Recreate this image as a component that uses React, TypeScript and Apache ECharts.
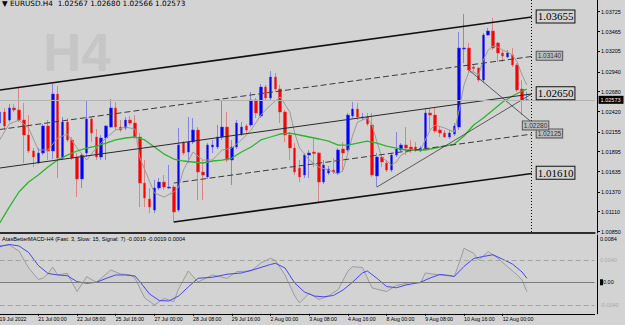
import React, { useEffect, useRef } from 'react';
import * as echarts from 'echarts';

// ---------- data ----------
const xTickLabels = [
  '19 Jul 2022', '21 Jul 00:00', '22 Jul 08:00', '25 Jul 16:00', '27 Jul 00:00', '28 Jul 08:00',
  '29 Jul 16:00', '2 Aug 00:00', '3 Aug 08:00', '4 Aug 16:00', '8 Aug 00:00', '9 Aug 08:00',
  '10 Aug 16:00', '12 Aug 00:00',
];
const barsPerLabel = 8;
const slotCount = 124; // bar slots across the plot (incl. empty right margin)

const opens = [
  1.02270, 1.02414, 1.02309, 1.02466, 1.02440, 1.02309, 1.02113, 1.01904, 1.01747, 1.01878,
  1.02231, 1.01904, 1.02649, 1.01812, 1.02283, 1.02048, 1.01825, 1.01538, 1.01878, 1.02322,
  1.02087, 1.01825, 1.02074, 1.02217, 1.02466, 1.02217, 1.02204, 1.02309, 1.02270, 1.02087,
  1.01485, 1.01276, 1.01132, 1.01420, 1.01498, 1.01420, 1.01433, 1.01132, 1.02008, 1.01891,
  1.02021, 1.02178, 1.01629, 1.01564, 1.01956, 1.01956, 1.02087, 1.02217, 1.01786, 1.01956,
  1.02126, 1.02231, 1.02244, 1.02571, 1.02361, 1.02740, 1.02597, 1.02871, 1.02714, 1.02414,
  1.02113, 1.01943, 1.01681, 1.01590, 1.01851, 1.01891, 1.01878, 1.01498, 1.01616, 1.01655,
  1.01616, 1.01930, 1.01917, 1.02361, 1.02453, 1.02335, 1.02348, 1.02244, 1.01577, 1.01825,
  1.01747, 1.01655, 1.01851, 1.01917, 1.01982, 1.01956, 1.01956, 1.01904, 1.01943, 1.02401,
  1.02374, 1.02178, 1.02139, 1.02087, 1.02126, 1.02217, 1.03237, 1.03250, 1.03002, 1.02989,
  1.02832, 1.03420, 1.03473, 1.03316, 1.03185, 1.03133, 1.03159, 1.03028, 1.02714, 1.02567,
];
const closes = [
  1.02414, 1.02231, 1.02466, 1.02440, 1.02309, 1.02113, 1.01904, 1.01825, 1.01878, 1.02231,
  1.01904, 1.02649, 1.01812, 1.02283, 1.02048, 1.01812, 1.01538, 1.01851, 1.02322, 1.02139,
  1.01825, 1.02074, 1.02231, 1.02466, 1.02217, 1.02178, 1.02309, 1.02270, 1.02087, 1.01485,
  1.01289, 1.01171, 1.01420, 1.01498, 1.01433, 1.01433, 1.01106, 1.01982, 1.01878, 1.02021,
  1.02178, 1.01629, 1.01590, 1.01982, 1.01982, 1.02087, 1.02217, 1.01786, 1.01956, 1.02270,
  1.02217, 1.02178, 1.02571, 1.02401, 1.02740, 1.02597, 1.02871, 1.02714, 1.02414, 1.02113,
  1.01943, 1.01629, 1.01564, 1.01851, 1.01878, 1.01871, 1.01498, 1.01721, 1.01668, 1.01629,
  1.01917, 1.01878, 1.02374, 1.02453, 1.02348, 1.02348, 1.02257, 1.01590, 1.01825, 1.01760,
  1.01655, 1.01851, 1.01930, 1.01982, 1.01943, 1.01930, 1.01917, 1.01943, 1.02401, 1.02374,
  1.02165, 1.02139, 1.02087, 1.02139, 1.02231, 1.03250, 1.03250, 1.02963, 1.02982, 1.02832,
  1.03420, 1.03473, 1.03250, 1.03185, 1.03146, 1.03185, 1.03028, 1.02701, 1.02571, 1.02573,
];
const lows = [
  1.02231, 1.02178, 1.02283, 1.02414, 1.02283, 1.01747, 1.01878, 1.01694, 1.01734, 1.01851,
  1.01786, 1.01799, 1.01551, 1.01786, 1.02021, 1.01786, 1.01302, 1.01420, 1.01825, 1.02021,
  1.01786, 1.01786, 1.01786, 1.02204, 1.02178, 1.02152, 1.02178, 1.02244, 1.02061, 1.01171,
  1.01171, 1.01093, 1.01093, 1.01394, 1.01394, 1.01407, 1.00975, 1.01106, 1.01851, 1.01747,
  1.01995, 1.01263, 1.01263, 1.01538, 1.01878, 1.01930, 1.02048, 1.01760, 1.01459, 1.01930,
  1.02100, 1.02139, 1.02217, 1.02335, 1.02335, 1.02571, 1.02571, 1.02675, 1.02270, 1.02021,
  1.01786, 1.01590, 1.01498, 1.01551, 1.01551, 1.01694, 1.01237, 1.01472, 1.01590, 1.01603,
  1.01590, 1.01629, 1.01891, 1.02335, 1.02309, 1.02309, 1.02231, 1.01564, 1.01433, 1.01694,
  1.01629, 1.01629, 1.01825, 1.01891, 1.01851, 1.01878, 1.01891, 1.01891, 1.01917, 1.02178,
  1.02139, 1.02087, 1.02074, 1.02061, 1.02100, 1.02178, 1.03054, 1.02937, 1.02937, 1.02806,
  1.02793, 1.03407, 1.03224, 1.03067, 1.03067, 1.03120, 1.03002, 1.02675, 1.02374, 1.02566,
];
const highs = [
  1.02466, 1.02466, 1.02518, 1.02518, 1.02727, 1.02531, 1.02374, 1.01943, 1.01943, 1.02257,
  1.02309, 1.02780, 1.02754, 1.02348, 1.02335, 1.02087, 1.01878, 1.01878, 1.02557, 1.02348,
  1.02191, 1.02113, 1.02244, 1.02584, 1.02544, 1.02309, 1.02348, 1.02361, 1.02374, 1.02139,
  1.01786, 1.01420, 1.01525, 1.01551, 1.01590, 1.01721, 1.01459, 1.02204, 1.02034, 1.02348,
  1.02335, 1.02217, 1.01786, 1.02008, 1.02048, 1.02244, 1.02571, 1.02414, 1.02048, 1.02309,
  1.02283, 1.02257, 1.02675, 1.02597, 1.02780, 1.02767, 1.02950, 1.02924, 1.02767, 1.02440,
  1.02152, 1.02008, 1.01786, 1.01878, 1.01917, 1.02087, 1.01891, 1.01786, 1.01708, 1.01812,
  1.01943, 1.02021, 1.02401, 1.02544, 1.02531, 1.02401, 1.02401, 1.02401, 1.01878, 1.01851,
  1.01786, 1.01878, 1.02152, 1.02008, 1.02217, 1.02048, 1.02021, 1.01969, 1.02466, 1.02466,
  1.02479, 1.02217, 1.02178, 1.02178, 1.02270, 1.03460, 1.03695, 1.03316, 1.03028, 1.03002,
  1.03447, 1.03512, 1.03643, 1.03329, 1.03224, 1.03224, 1.03250, 1.03054, 1.02832, 1.02680,
];

// fast MA (thin gray) read at sampled bars: [bar, price]
const fastMA = [
  [0, 1.02048], [2, 1.02257], [4, 1.02309], [6, 1.02204], [8, 1.01917], [10, 1.01917],
  [12, 1.02074], [14, 1.02126], [16, 1.01943], [18, 1.01786], [20, 1.01943], [22, 1.02074],
  [24, 1.02178], [26, 1.02217], [28, 1.02191], [29, 1.01812], [32, 1.01355], [34, 1.01302],
  [36, 1.01368], [37, 1.01433], [38, 1.01655], [40, 1.01891], [42, 1.01786], [44, 1.01786],
  [46, 1.01917], [48, 1.01943], [50, 1.02048], [52, 1.02178], [54, 1.02374], [56, 1.02505],
  [58, 1.02610], [60, 1.02414], [61, 1.02139], [62, 1.01943], [64, 1.01786], [66, 1.01694],
  [68, 1.01655], [70, 1.01603], [71, 1.01655], [72, 1.01878], [73, 1.02113], [74, 1.02283],
  [76, 1.02335], [77, 1.02244], [78, 1.02021], [79, 1.01825], [81, 1.01721], [82, 1.01760],
  [83, 1.01851], [85, 1.01917], [87, 1.01917], [88, 1.02048], [89, 1.02178], [90, 1.02244],
  [92, 1.02204], [94, 1.02152], [95, 1.02440], [96, 1.02767], [97, 1.02937], [98, 1.02937],
  [99, 1.02897], [100, 1.03093], [101, 1.03224], [102, 1.03277], [103, 1.03263], [104, 1.03224],
  [105, 1.03198], [106, 1.03159], [107, 1.03067], [108, 1.02897], [109, 1.02767],
];
// slow MA (green) read at sampled bars
const slowMA = [
  [0, 1.00962], [2, 1.01171], [4, 1.01368], [6, 1.01498], [8, 1.01590], [10, 1.01694],
  [12, 1.01786], [14, 1.01851], [16, 1.01904], [18, 1.01943], [20, 1.01969], [22, 1.02008],
  [24, 1.02048], [26, 1.02074], [28, 1.02087], [30, 1.02048], [32, 1.01956], [34, 1.01864],
  [36, 1.01799], [38, 1.01773], [40, 1.01760], [42, 1.01747], [44, 1.01773], [46, 1.01786],
  [48, 1.01812], [50, 1.01891], [52, 1.01956], [54, 1.02048], [56, 1.02087], [58, 1.02126],
  [60, 1.02139], [62, 1.02113], [64, 1.02087], [66, 1.02061], [68, 1.02034], [70, 1.01982],
  [72, 1.01982], [74, 1.02008], [76, 1.02034], [78, 1.02008], [80, 1.01969], [82, 1.01943],
  [84, 1.01917], [86, 1.01917], [88, 1.01917], [90, 1.01943], [92, 1.01969], [94, 1.01995],
  [96, 1.02100], [98, 1.02244], [100, 1.02335], [102, 1.02440], [104, 1.02544], [106, 1.02623],
  [108, 1.02688], [109, 1.02714],
];
// MACD main (gray) and signal (blue), sampled
const macdMain = [
  [0, 0.00651], [2, 0.00663], [4, 0.00556], [6, 0.00254], [8, 0.00050], [9, 0.00076],
  [10, 0.00148], [11, 0.00272], [12, 0.00130], [14, 0.00160], [16, -0.00167], [18, 0.00100],
  [20, 0.0], [23, 0.00219], [25, 0.00148], [27, 0.00130], [28, 0.00076], [29, -0.00107],
  [30, -0.00279], [32, -0.00404], [34, -0.00288], [36, -0.00345], [37, -0.00119], [39, 0.00201],
  [41, 0.00005], [44, 0.00130], [47, 0.00071], [49, 0.00188], [52, 0.00201], [54, 0.00343],
  [56, 0.00427], [57, 0.00388], [59, 0.00130], [61, -0.00244], [62, -0.00368], [64, -0.00196],
  [66, -0.00306], [68, -0.00244], [70, -0.00128], [72, 0.00201], [73, 0.00277], [75, 0.00263],
  [77, -0.00101], [80, -0.00164], [82, -0.00057], [85, -0.00004], [87, -0.00012], [88, 0.00165],
  [91, 0.00130], [94, 0.00103], [95, 0.00343], [96, 0.00604], [98, 0.00516], [99, 0.00396],
  [101, 0.00544], [103, 0.00427], [105, 0.00277], [107, 0.00130], [108, 0.00041], [109, -0.00167],
];
const macdSignal = [
  [0, 0.00633], [2, 0.00672], [4, 0.00645], [6, 0.00530], [8, 0.00299], [10, 0.00156],
  [12, 0.00130], [14, 0.00117], [16, 0.00011], [18, -0.00018], [20, 0.0], [22, 0.00068],
  [24, 0.00130], [26, 0.00130], [28, 0.00112], [29, 0.00011], [31, -0.00208], [33, -0.00324],
  [35, -0.00332], [37, -0.00244], [39, -0.00084], [41, 0.00071], [44, 0.00089], [47, 0.00142],
  [50, 0.00165], [53, 0.00236], [56, 0.00316], [57, 0.00338], [59, 0.00254], [61, -0.00012],
  [63, -0.00172], [65, -0.00244], [67, -0.00258], [69, -0.00235], [71, -0.00137], [73, 0.00005],
  [75, 0.00165], [76, 0.00201], [78, 0.00071], [80, -0.00075], [82, -0.00098], [84, -0.00048],
  [87, 0.0], [89, 0.00076], [91, 0.00139], [93, 0.00121], [94, 0.00103], [96, 0.00281],
  [98, 0.00423], [100, 0.00459], [102, 0.00489], [104, 0.00409], [106, 0.00325], [108, 0.00183],
  [109, 0.00071],
];

const priceTicks = [1.00850, 1.01110, 1.01370, 1.01635, 1.01895, 1.02155, 1.02420, 1.02680, 1.02940, 1.03205, 1.03465, 1.03725];
const macdTicks = [-0.0056, -0.0040, 0, 0.0040, 0.0084];
const macdLevels = [0.0040, -0.0040];
const lastBar = { open: 1.02567, high: 1.02680, low: 1.02566, close: 1.02573 };
const macdTitleValues = ['-0.0019', '-0.0019', '0.0004'];
const endBar = 110;

// drawn objects: [startBar, startPrice] -> [endBar, endPrice]
const trendLines = [
  { name: 'upper', from: [0, 1.02701], to: [110, 1.03655], kind: 'thick', label: '1.03655', box: 'big' },
  { name: 'upperMid', from: [0, 1.02185], to: [110, 1.03140], kind: 'dash', label: '1.03140', box: 'small' },
  { name: 'middle', from: [0, 1.01681], to: [110, 1.02650], kind: 'thin', label: '1.02650', box: 'big' },
  { name: 'lowerMid', from: [36, 1.01485], to: [110, 1.02125], kind: 'dash', label: '1.02125', box: 'small' },
  { name: 'lower', from: [36, 1.00975], to: [110, 1.01610], kind: 'thick', label: '1.01610', box: 'big' },
  { name: 'rise', from: [78, 1.01433], to: [110, 1.02650], kind: 'fine', label: '', box: '' },
  { name: 'fall', from: [97, 1.02963], to: [110, 1.02280], kind: 'fine', label: '1.02280', box: 'small' },
];

// ---------- styling ----------
const BG = '#d3d3d3';
const FONT = 'Liberation Sans';

const lineStyles: Record<string, any> = {
  thick: { color: '#111', width: 1.6, type: 'solid' },
  dash: { color: '#3c3c3c', width: 1, type: [6, 3] },
  thin: { color: '#2a2a2a', width: 1, type: 'solid' },
  fine: { color: '#3a3a3a', width: 0.8, type: 'solid' },
};
const boxStyles: Record<string, any> = {
  big: {
    fontFamily: 'Liberation Serif', fontSize: 11, color: '#000', backgroundColor: BG,
    borderColor: '#111', borderWidth: 1, padding: [1, 1, 0, 1],
  },
  small: {
    fontFamily: FONT, fontSize: 6.5, color: '#333', backgroundColor: '#bcbcbc',
    borderColor: '#555', borderWidth: 1, padding: [1, 1, 0, 1],
  },
};

export default function App() {
  const ref = useRef<HTMLDivElement>(null);

  useEffect(() => {
    if (!ref.current) return;
    const chart = echarts.init(ref.current, undefined, { renderer: 'svg' });

    const categories = Array.from({ length: slotCount }, (_, i) => String(i));
    const candles = opens.map((o, i) => [o, closes[i], lows[i], highs[i]]);
    const labelShown = (idx: number) => idx % barsPerLabel === 0 && idx / barsPerLabel < xTickLabels.length;

    const trendData: any[] = trendLines.map((t) => [
      {
        coord: t.from,
        lineStyle: lineStyles[t.kind],
        label: t.label
          ? { show: true, position: 'end', distance: 5, formatter: t.label, ...boxStyles[t.box] }
          : { show: false },
      },
      { coord: t.to },
    ]);
    // vertical dotted "end" line
    trendData.push([
      { coord: [endBar, 1.03878], lineStyle: { color: '#000', width: 1, type: [1, 2] }, label: { show: false } },
      { coord: [endBar, 1.00832] },
    ]);

    const bw = 595.0125; // (slotCount - 1) * bar spacing
    const option: any = {
      animation: false,
      backgroundColor: BG,
      textStyle: { fontFamily: FONT },
      grid: [
        { left: -0.4, top: 0, width: bw, height: 233, outerBoundsMode: 'none' },
        { left: -0.4, top: 235, width: bw, height: 78.8, outerBoundsMode: 'none' },
      ],
      xAxis: [
        {
          type: 'category', gridIndex: 0, data: categories, boundaryGap: false,
          axisLine: { show: true, onZero: false, lineStyle: { color: '#2e2e2e', width: 2 } },
          axisTick: { show: false }, axisLabel: { show: false }, splitLine: { show: false },
        },
        {
          type: 'category', gridIndex: 1, data: categories, boundaryGap: false,
          axisLine: { show: true, onZero: false, lineStyle: { color: '#000', width: 1 } },
          axisTick: { show: true, interval: (i: number) => labelShown(i), length: 2, lineStyle: { color: '#000' } },
          axisLabel: {
            show: true, interval: (i: number) => labelShown(i),
            formatter: (_v: string, i: number) => xTickLabels[i / barsPerLabel] ?? '',
            align: 'left', fontSize: 5.2, color: '#000', margin: 3, fontFamily: FONT,
          },
          splitLine: { show: false },
        },
      ],
      yAxis: [
        {
          type: 'value', gridIndex: 0, position: 'right', offset: 2.4,
          min: 1.00832, max: 1.03878, splitLine: { show: false },
          axisLine: { show: true, lineStyle: { color: '#000', width: 1 } },
          axisTick: { show: true, customValues: priceTicks, length: 3, lineStyle: { color: '#000' } },
          axisLabel: {
            customValues: priceTicks, formatter: (v: number) => v.toFixed(5),
            fontSize: 5.5, color: '#000', margin: 4, fontFamily: FONT,
          },
        },
        {
          type: 'value', gridIndex: 1, position: 'right', offset: 2.4,
          min: -0.0056, max: 0.0084, splitLine: { show: false },
          axisLine: { show: true, lineStyle: { color: '#000', width: 1 } },
          axisTick: { show: false },
          axisLabel: {
            customValues: macdTicks, margin: 3, fontSize: 5.5, fontFamily: FONT,
            formatter: (v: number) => {
              if (v > 0.008) return '{top|0.0084}';
              if (v < -0.005) return '{bot|-0.0056}';
              if (v === 0) return '{mk|}{zero|0.00}';
              return '{lvl|' + v.toFixed(4) + '}';
            },
            rich: {
              top: { fontSize: 5.5, color: '#000', padding: [7, 0, 0, 0] },
              bot: { fontSize: 5.5, color: '#000', padding: [0, 0, 8, 0] },
              lvl: { fontSize: 5.5, color: '#a9a9a9' },
              zero: { fontSize: 5.5, color: '#000' },
              mk: { backgroundColor: '#000', width: 3, height: 6 },
            },
          },
        },
      ],
      series: [
        {
          type: 'candlestick', xAxisIndex: 0, yAxisIndex: 0, data: candles, barWidth: 3,
          itemStyle: {
            color: '#0000ff', color0: '#ff0000',
            borderColor: 'rgba(70,70,230,0.55)', borderColor0: 'rgba(225,70,70,0.55)', borderWidth: 1,
          },
          markLine: { symbol: ['none', 'none'], silent: true, animation: false, precision: 5, data: trendData },
          z: 3,
        },
        {
          type: 'line', xAxisIndex: 0, yAxisIndex: 0, data: fastMA, showSymbol: false, symbol: 'none',
          connectNulls: true, lineStyle: { color: '#9a9a9a', width: 1 }, z: 4,
        },
        {
          type: 'line', xAxisIndex: 0, yAxisIndex: 0, data: slowMA, showSymbol: false, symbol: 'none',
          connectNulls: true, lineStyle: { color: '#2db52d', width: 1.3 }, z: 4,
          markLine: {
            symbol: ['none', 'none'], silent: true, animation: false, precision: 5,
            data: [
              {
                yAxis: lastBar.close,
                lineStyle: { color: '#b2b2b2', width: 1, type: 'solid' },
                label: {
                  show: true, position: 'end', distance: 4, formatter: lastBar.close.toFixed(5),
                  backgroundColor: '#000', color: '#fff', fontSize: 5.5, fontFamily: FONT, padding: [1, 3, 1, 2],
                },
              },
            ],
          },
        },
        {
          type: 'line', xAxisIndex: 1, yAxisIndex: 1, data: macdMain, showSymbol: false, symbol: 'none',
          lineStyle: { color: '#9c9c9c', width: 1 },
          areaStyle: { color: 'rgba(140,140,140,0.1)', origin: 0 },
          markLine: {
            symbol: ['none', 'none'], silent: true, animation: false, precision: 5, label: { show: false },
            data: [
              ...macdLevels.map((v) => ({ yAxis: v, lineStyle: { color: '#a2a2a2', width: 1, type: [5, 3] } })),
              { yAxis: 0, lineStyle: { color: '#7c7c7c', width: 1, type: 'solid' } },
            ],
          },
        },
        {
          type: 'line', xAxisIndex: 1, yAxisIndex: 1, data: macdSignal, showSymbol: false, symbol: 'none',
          lineStyle: { color: '#4646f0', width: 1 }, z: 4,
        },
      ],
      graphic: [
        {
          type: 'text', left: 43, top: 26, z: 0, silent: true,
          style: { text: 'H4', fontSize: 53, fontWeight: 'bold', fill: '#c6c6c6', fontFamily: FONT },
        },
        {
          type: 'text', left: 2, top: 0, z: 10,
          style: {
            text: '▼ EURUSD.H4  ' + [lastBar.open, lastBar.high, lastBar.low, lastBar.close].map((v) => v.toFixed(5)).join(' '),
            fontSize: 7.3, fill: '#000', fontFamily: 'DejaVu Sans',
          },
        },
        {
          type: 'text', left: 2, top: 236, z: 10,
          style: {
            text: 'AtasBetterMACD-H4 (Fast: 3, Slow: 15, Signal: 7) ' + macdTitleValues.join(' '),
            fontSize: 5.6, fill: '#000', fontFamily: FONT,
          },
        },
      ],
    };

    chart.setOption(option);
    return () => chart.dispose();
  }, []);

  return (
    <div
      ref={ref}
      style={{ position: 'fixed', left: 0, top: 0, width: 625, height: 325, background: BG }}
    />
  );
}
